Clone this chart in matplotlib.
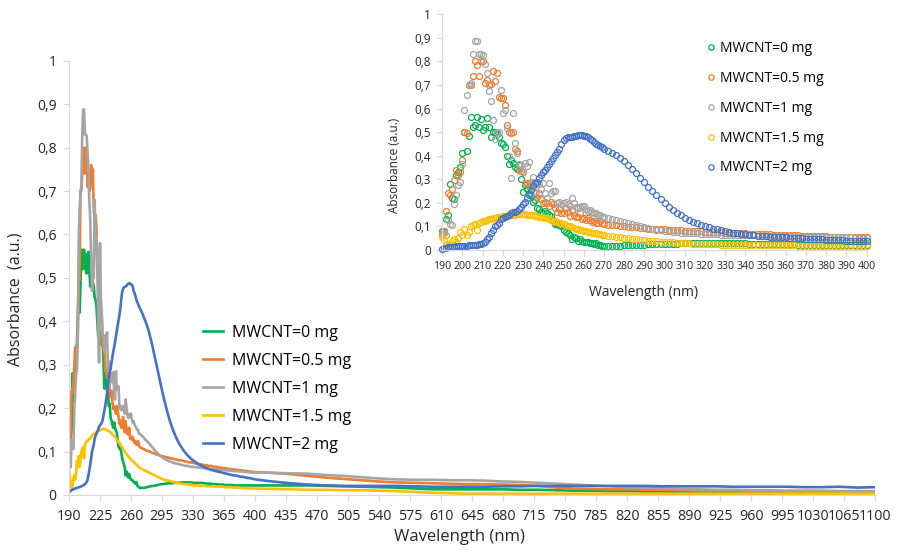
import numpy as np
import matplotlib
matplotlib.use('Agg')
import matplotlib.pyplot as plt

plt.rcParams['font.family'] = ['Open Sans', 'DejaVu Sans']

# wavelength grids (nm): 1 nm up to 270, 2 nm up to 400, 20 nm beyond
wl_uv = np.r_[np.arange(190, 271), np.arange(272, 401, 2)]
wl_vis = np.arange(420, 1101, 20)

labels = ['MWCNT=0 mg', 'MWCNT=0.5 mg', 'MWCNT=1 mg', 'MWCNT=1.5 mg', 'MWCNT=2 mg']
colors = ['#00B050', '#ED7D31', '#A5A5A5', '#FFC000', '#4472C4']

# ---- MWCNT = 0 mg
abs0_uv = [
    0.082, 0.080, 0.130, 0.150, 0.280, 0.220, 0.215, 0.320, 0.330, 0.350,  # 190
    0.410, 0.500, 0.420, 0.485, 0.565, 0.520, 0.530, 0.565, 0.520, 0.555,  # 200
    0.510, 0.520, 0.560, 0.520, 0.480, 0.500, 0.500, 0.490, 0.480, 0.455,  # 210
    0.450, 0.435, 0.400, 0.365, 0.380, 0.370, 0.350, 0.345, 0.360, 0.300,  # 220
    0.245, 0.275, 0.260, 0.240, 0.235, 0.205, 0.210, 0.177, 0.172, 0.162,  # 230
    0.155, 0.167, 0.155, 0.148, 0.144, 0.127, 0.110, 0.110, 0.105, 0.100,  # 240
    0.085, 0.078, 0.070, 0.064, 0.045, 0.054, 0.050, 0.040, 0.048, 0.040,  # 250
    0.035, 0.035, 0.033, 0.030, 0.028, 0.026, 0.030, 0.022, 0.020, 0.018, 0.016,  # 260-270
    0.017, 0.016, 0.017, 0.018, 0.019, 0.020, 0.021, 0.021, 0.022, 0.023,  # 272-290
    0.024, 0.025, 0.025, 0.026, 0.026, 0.027, 0.027, 0.027, 0.028, 0.028,  # 292-310
    0.028, 0.028, 0.029, 0.029, 0.029, 0.029, 0.029, 0.029, 0.029, 0.028,  # 312-330
    0.028, 0.028, 0.028, 0.028, 0.028, 0.027, 0.027, 0.026, 0.026, 0.026,  # 332-350
    0.025, 0.025, 0.025, 0.024, 0.024, 0.024, 0.024, 0.023, 0.023, 0.023,  # 352-370
    0.023, 0.023, 0.022, 0.022, 0.022, 0.022, 0.022, 0.022, 0.022, 0.022,  # 372-390
    0.022, 0.022, 0.022, 0.022, 0.022]                                      # 392-400
abs0_vis = [
    0.022, 0.022, 0.022, 0.021, 0.020, 0.019, 0.018, 0.017, 0.015, 0.013,
    0.013, 0.013, 0.013, 0.013, 0.012, 0.012, 0.011, 0.010, 0.010, 0.009,
    0.009, 0.008, 0.008, 0.007, 0.007, 0.007, 0.006, 0.006, 0.006, 0.005,
    0.005, 0.005, 0.005, 0.005, 0.005]

# ---- MWCNT = 0.5 mg
abs05_uv = [
    0.064, 0.080, 0.165, 0.240, 0.235, 0.260, 0.295, 0.340, 0.320, 0.330,
    0.380, 0.500, 0.495, 0.700, 0.700, 0.740, 0.800, 0.785, 0.740, 0.800,
    0.800, 0.710, 0.720, 0.700, 0.705, 0.760, 0.715, 0.750, 0.650, 0.645,
    0.645, 0.615, 0.530, 0.500, 0.495, 0.500, 0.430, 0.420, 0.340, 0.335,
    0.330, 0.285, 0.285, 0.270, 0.290, 0.280, 0.240, 0.225, 0.240, 0.215,
    0.198, 0.204, 0.198, 0.187, 0.205, 0.195, 0.180, 0.163, 0.172, 0.155,
    0.155, 0.180, 0.163, 0.144, 0.170, 0.150, 0.141, 0.139, 0.155, 0.130,
    0.134, 0.127, 0.134, 0.127, 0.120, 0.124, 0.116, 0.116, 0.124, 0.116, 0.110,
    0.108, 0.106, 0.104, 0.102, 0.101, 0.099, 0.097, 0.096, 0.094, 0.093,
    0.091, 0.090, 0.089, 0.088, 0.087, 0.086, 0.085, 0.084, 0.083, 0.082,
    0.081, 0.080, 0.080, 0.079, 0.078, 0.077, 0.076, 0.075, 0.075, 0.074,
    0.073, 0.072, 0.072, 0.071, 0.070, 0.069, 0.069, 0.068, 0.067, 0.067,
    0.066, 0.065, 0.065, 0.064, 0.063, 0.063, 0.062, 0.062, 0.061, 0.060,
    0.060, 0.059, 0.059, 0.058, 0.058, 0.057, 0.057, 0.056, 0.056, 0.055,
    0.055, 0.054, 0.054, 0.053, 0.053]
abs05_vis = [
    0.051, 0.048, 0.044, 0.040, 0.037, 0.034, 0.031, 0.029, 0.028, 0.027,
    0.026, 0.025, 0.025, 0.024, 0.023, 0.021, 0.017, 0.015, 0.014, 0.013,
    0.013, 0.012, 0.012, 0.011, 0.010, 0.009, 0.009, 0.008, 0.008, 0.007,
    0.007, 0.006, 0.006, 0.006, 0.006]

# ---- MWCNT = 1 mg
abs1_uv = [
    0.070, 0.070, 0.064, 0.127, 0.110, 0.106, 0.195, 0.233, 0.276, 0.290,
    0.365, 0.594, 0.657, 0.700, 0.710, 0.830, 0.887, 0.888, 0.830, 0.830,
    0.827, 0.790, 0.750, 0.676, 0.634, 0.550, 0.470, 0.500, 0.500, 0.680,
    0.580, 0.594, 0.516, 0.400, 0.305, 0.580, 0.455, 0.410, 0.365, 0.360,
    0.330, 0.368, 0.356, 0.375, 0.285, 0.308, 0.248, 0.280, 0.280, 0.260,
    0.283, 0.240, 0.220, 0.285, 0.243, 0.250, 0.250, 0.200, 0.205, 0.195,
    0.200, 0.205, 0.195, 0.187, 0.220, 0.200, 0.184, 0.177, 0.184, 0.187,
    0.187, 0.172, 0.167, 0.170, 0.163, 0.158, 0.155, 0.150, 0.150, 0.141, 0.141,
    0.137, 0.133, 0.128, 0.124, 0.120, 0.115, 0.110, 0.105, 0.100, 0.096,
    0.092, 0.089, 0.086, 0.083, 0.081, 0.079, 0.077, 0.076, 0.074, 0.073,
    0.072, 0.071, 0.070, 0.069, 0.068, 0.067, 0.067, 0.066, 0.065, 0.065,
    0.064, 0.064, 0.063, 0.063, 0.062, 0.062, 0.062, 0.061, 0.061, 0.060,
    0.060, 0.060, 0.059, 0.059, 0.058, 0.058, 0.058, 0.057, 0.057, 0.056,
    0.056, 0.056, 0.055, 0.055, 0.055, 0.054, 0.054, 0.054, 0.053, 0.053,
    0.053, 0.052, 0.052, 0.052, 0.052]
abs1_vis = [
    0.051, 0.050, 0.049, 0.046, 0.044, 0.041, 0.038, 0.036, 0.035, 0.035,
    0.034, 0.034, 0.033, 0.031, 0.030, 0.028, 0.026, 0.024, 0.022, 0.020,
    0.018, 0.016, 0.015, 0.014, 0.013, 0.012, 0.012, 0.011, 0.011, 0.010,
    0.010, 0.010, 0.009, 0.009, 0.009]

# ---- MWCNT = 1.5 mg
abs15_uv = [
    0.055, 0.042, 0.025, 0.015, 0.020, 0.040, 0.045, 0.035, 0.050, 0.078,
    0.064, 0.090, 0.065, 0.078, 0.100, 0.106, 0.110, 0.085, 0.116, 0.120,
    0.124, 0.124, 0.127, 0.130, 0.130, 0.134, 0.136, 0.139, 0.140, 0.141,
    0.143, 0.144, 0.146, 0.147, 0.148, 0.149, 0.150, 0.151, 0.152, 0.152,
    0.152, 0.151, 0.150, 0.149, 0.148, 0.147, 0.146, 0.144, 0.142, 0.140,
    0.138, 0.136, 0.134, 0.131, 0.128, 0.125, 0.122, 0.119, 0.116, 0.113,
    0.110, 0.106, 0.103, 0.100, 0.097, 0.094, 0.091, 0.088, 0.086, 0.084,
    0.082, 0.080, 0.078, 0.076, 0.074, 0.072, 0.070, 0.068, 0.066, 0.064, 0.062,
    0.060, 0.058, 0.056, 0.054, 0.052, 0.050, 0.048, 0.046, 0.044, 0.042,
    0.040, 0.038, 0.036, 0.035, 0.034, 0.033, 0.032, 0.031, 0.030, 0.029,
    0.028, 0.027, 0.027, 0.026, 0.025, 0.025, 0.024, 0.024, 0.023, 0.023,
    0.022, 0.022, 0.022, 0.021, 0.021, 0.021, 0.021, 0.020, 0.020, 0.020,
    0.020, 0.020, 0.019, 0.019, 0.019, 0.019, 0.019, 0.018, 0.018, 0.018,
    0.018, 0.018, 0.017, 0.017, 0.017, 0.017, 0.016, 0.016, 0.016, 0.016,
    0.015, 0.015, 0.015, 0.015, 0.015]
abs15_vis = [
    0.014, 0.013, 0.012, 0.012, 0.011, 0.011, 0.010, 0.009, 0.007, 0.005,
    0.004, 0.003, 0.003, 0.003, 0.003, 0.003, 0.003, 0.003, 0.003, 0.003,
    0.003, 0.003, 0.003, 0.003, 0.003, 0.003, 0.003, 0.003, 0.003, 0.003,
    0.003, 0.003, 0.003, 0.003, 0.003]

# ---- MWCNT = 2 mg
abs2_uv = [
    0.005, 0.008, 0.010, 0.011, 0.012, 0.013, 0.014, 0.015, 0.016, 0.016,
    0.017, 0.018, 0.018, 0.019, 0.020, 0.021, 0.022, 0.023, 0.025, 0.027,
    0.030, 0.035, 0.045, 0.057, 0.070, 0.085, 0.100, 0.108, 0.116, 0.130,
    0.136, 0.141, 0.146, 0.150, 0.158, 0.160, 0.163, 0.167, 0.172, 0.184,
    0.195, 0.205, 0.220, 0.235, 0.255, 0.270, 0.283, 0.290, 0.305, 0.318,
    0.330, 0.340, 0.352, 0.365, 0.378, 0.390, 0.403, 0.415, 0.430, 0.450,
    0.467, 0.474, 0.478, 0.479, 0.480, 0.482, 0.485, 0.486, 0.488, 0.487,
    0.485, 0.484, 0.480, 0.470, 0.465, 0.458, 0.450, 0.445, 0.440, 0.435, 0.430,
    0.422, 0.412, 0.402, 0.390, 0.378, 0.362, 0.345, 0.326, 0.306, 0.287,
    0.268, 0.250, 0.232, 0.215, 0.199, 0.184, 0.170, 0.158, 0.147, 0.137,
    0.128, 0.120, 0.113, 0.107, 0.101, 0.096, 0.091, 0.087, 0.083, 0.080,
    0.077, 0.074, 0.071, 0.069, 0.067, 0.065, 0.063, 0.061, 0.060, 0.058,
    0.057, 0.056, 0.055, 0.054, 0.053, 0.052, 0.051, 0.050, 0.049, 0.048,
    0.047, 0.046, 0.045, 0.045, 0.044, 0.043, 0.042, 0.042, 0.041, 0.040,
    0.039, 0.039, 0.038, 0.037, 0.036]
abs2_vis = [
    0.031, 0.027, 0.024, 0.022, 0.021, 0.021, 0.021, 0.021, 0.020, 0.019,
    0.019, 0.019, 0.019, 0.020, 0.020, 0.021, 0.021, 0.021, 0.021, 0.021,
    0.021, 0.021, 0.020, 0.020, 0.020, 0.020, 0.019, 0.019, 0.019, 0.019,
    0.018, 0.018, 0.019, 0.017, 0.018]

uv_series = [abs0_uv, abs05_uv, abs1_uv, abs15_uv, abs2_uv]
vis_series = [abs0_vis, abs05_vis, abs1_vis, abs15_vis, abs2_vis]

main_xticks = list(range(190, 1101, 35))
inset_xticks = list(range(190, 401, 10))
y_ticks = [0, 0.1, 0.2, 0.3, 0.4, 0.5, 0.6, 0.7, 0.8, 0.9, 1]
y_ticklabels = ['0', '0,1', '0,2', '0,3', '0,4', '0,5', '0,6', '0,7', '0,8', '0,9', '1']

axis_grey = '#D9D9D9'
text_col = '#262626'


def style_axes(ax):
    for s in ['top', 'right']:
        ax.spines[s].set_visible(False)
    for s in ['left', 'bottom']:
        ax.spines[s].set_color(axis_grey)
        ax.spines[s].set_linewidth(0.9)
    ax.tick_params(direction='out', length=4, width=0.9, color=axis_grey,
                   labelcolor=text_col)


fig = plt.figure(figsize=(8.98, 5.5), dpi=100)

# main chart
ax = fig.add_axes([0.0768, 0.1, 0.8977, 0.7896])
for i in range(5):
    x = np.r_[wl_uv, wl_vis]
    y = np.r_[uv_series[i], vis_series[i]]
    ax.plot(x, y, color=colors[i], lw=1.9, label=labels[i])
ax.set_xlim(190, 1100)
ax.set_ylim(0, 1)
ax.set_xticks(main_xticks)
ax.set_xticklabels([str(t) for t in main_xticks],
                   family=['Liberation Sans Narrow', 'Open Sans'], fontsize=10.3)
ax.set_yticks(y_ticks)
ax.set_yticklabels(y_ticklabels, fontsize=10)
style_axes(ax)
ax.tick_params(axis='x', pad=6)
ax.tick_params(axis='y', pad=5)
ax.legend(loc='upper left', bbox_to_anchor=(203 / 898, 1 - 325 / 550),
          bbox_transform=fig.transFigure, frameon=False, fontsize=11.5,
          handlelength=1.25, handletextpad=0.55, labelspacing=0.75,
          borderpad=0, borderaxespad=0)
fig.text(15 / 898, 1 - 299 / 550, 'Absorbance  (a.u.)', rotation=90,
         ha='center', va='center', fontsize=11.5, color=text_col)
fig.text(459 / 898, 1 - 537 / 550, 'Wavelength (nm)', ha='center',
         va='center', fontsize=12, color=text_col)

# inset
axi = fig.add_axes([0.4925, 0.5455, 0.4726, 0.4285], facecolor='white')
for i in range(5):
    axi.plot(wl_uv, uv_series[i], ls='none', marker='o', ms=4.3, mfc='none',
             mew=0.9, color=colors[i], label=labels[i], clip_on=False)
axi.set_xlim(190, 400)
axi.set_ylim(0, 1)
axi.set_xticks(inset_xticks)
axi.set_xticklabels([str(t) for t in inset_xticks], fontsize=7.6)
axi.set_yticks(y_ticks)
axi.set_yticklabels(y_ticklabels, fontsize=8.5)
style_axes(axi)
axi.tick_params(pad=4)
axi.legend(loc='upper left', bbox_to_anchor=(705 / 898, 1 - 41 / 550),
           bbox_transform=fig.transFigure, frameon=False, fontsize=10,
           handlelength=0.8, handletextpad=0.3, labelspacing=1.07,
           borderpad=0, borderaxespad=0, numpoints=1, markerscale=0.9)
fig.text(395 / 898, 1 - 165 / 550, 'Absorbance (a.u.)', rotation=90,
         ha='center', va='center', fontsize=8.5, color=text_col)
fig.text(644 / 898, 1 - 293 / 550, 'Wavelength (nm)', ha='center',
         va='center', fontsize=10, color=text_col)

fig.savefig('out.png', dpi=100)
